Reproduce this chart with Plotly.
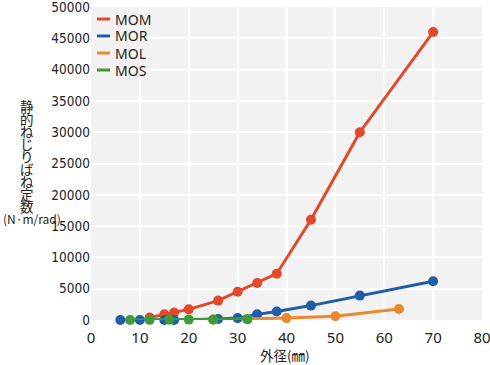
import plotly.graph_objects as go

# ---- data ----
mom_x = [12, 15, 17, 20, 26, 30, 34, 38, 45, 55, 70]
mom_y = [400, 900, 1200, 1700, 3100, 4500, 5900, 7400, 16000, 30000, 46000]

mor_x = [6, 10, 15, 17, 26, 30, 34, 38, 45, 55, 70]
mor_y = [0, 0, 0, 0, 150, 300, 900, 1350, 2300, 3900, 6200]

mol_x = [25, 32, 40, 50, 63]
mol_y = [50, 150, 300, 600, 1750]

mos_x = [8, 12, 16, 20, 25, 32]
mos_y = [0, 20, 40, 60, 80, 100]

series_names = ["MOM", "MOR", "MOL", "MOS"]
series_colors = ["#e2492a", "#1f5ea6", "#ea8a30", "#3d9b3a"]

x_ticks = [0, 10, 20, 30, 40, 50, 60, 70, 80]
y_ticks = [0, 5000, 10000, 15000, 20000, 25000, 30000, 35000, 40000, 45000, 50000]
y_tick_labels = ["0", "5000", "10000", "15000", "20000", "25000", "30000",
                 "35000", "40000", "45000", "50000"]

y_title_lines = ["静", "的", "ね", "じ", "り", "ば", "ね", "定", "数", "(N·m/rad)"]
x_title = "外径(㎜)"

# ---- figure ----
fig = go.Figure()
xs = [mom_x, mor_x, mol_x, mos_x]
ys = [mom_y, mor_y, mol_y, mos_y]
for name, color, x, y in zip(series_names, series_colors, xs, ys):
    fig.add_trace(go.Scatter(
        x=x, y=y, name=name, mode="lines+markers",
        line=dict(color=color, width=3),
        marker=dict(color=color, size=10),
        cliponaxis=False, showlegend=False,
    ))

W, H = 490, 365
L, R, T, B = 91, 8, 7, 45
pw, ph = W - L - R, H - T - B

def px_x(p):
    return (p - L) / pw

def px_y(p):
    return 1 - (p - T) / ph

shapes = []
annotations = []
# manual legend
for i, (name, color) in enumerate(zip(series_names, series_colors)):
    yc = 19 + i * 17
    shapes.append(dict(type="line", xref="paper", yref="paper",
                       x0=px_x(97), x1=px_x(110), y0=px_y(yc), y1=px_y(yc),
                       line=dict(color=color, width=3)))
    annotations.append(dict(text=name, xref="paper", yref="paper",
                            x=px_x(113), y=px_y(yc), xanchor="left", yanchor="middle",
                            showarrow=False,
                            font=dict(family="Noto Sans", size=14, color="#222")))

# y axis title (stacked)
n = len(y_title_lines)
for i, t in enumerate(y_title_lines):
    yc = 106 + i * 12.5
    last = i == n - 1
    annotations.append(dict(text=t, xref="paper", yref="paper",
                            x=px_x(32 if last else 27), y=px_y(yc),
                            xanchor="center", yanchor="middle", showarrow=False,
                            borderpad=0,
                            font=dict(family="Noto Sans CJK JP", size=12 if last else 13.5,
                                      color="#222")))

annotations.append(dict(text=x_title, xref="paper", yref="paper",
                        x=px_x(285), y=px_y(355), xanchor="center", yanchor="middle",
                        showarrow=False, borderpad=0,
                        font=dict(family="Noto Sans CJK JP", size=13.5, color="#222")))

fig.update_layout(
    width=W, height=H,
    margin=dict(l=L, r=R, t=T, b=B, pad=0, autoexpand=False),
    paper_bgcolor="white", plot_bgcolor="#f2f2f2",
    shapes=shapes, annotations=annotations,
    showlegend=False,
)
fig.update_xaxes(range=[0, 80], tickvals=x_ticks, showgrid=True, gridcolor="white", gridwidth=2,
                 zeroline=False, showline=False, automargin=False, ticklabeloverflow="allow",
                 ticklabelstandoff=7,
                 tickfont=dict(family="Noto Sans", size=15, color="#222"))
fig.update_yaxes(range=[0, 50000], tickvals=y_ticks, ticktext=y_tick_labels,
                 showgrid=True, gridcolor="white", gridwidth=2,
                 zeroline=False, showline=False, automargin=False, ticklabeloverflow="allow",
                 tickfont=dict(family="Liberation Sans Narrow, DejaVu Sans Condensed", size=13.5, color="#222"))

fig.write_html("out.html", config={"displayModeBar": False},
               post_script="document.body.style.margin='0';")
